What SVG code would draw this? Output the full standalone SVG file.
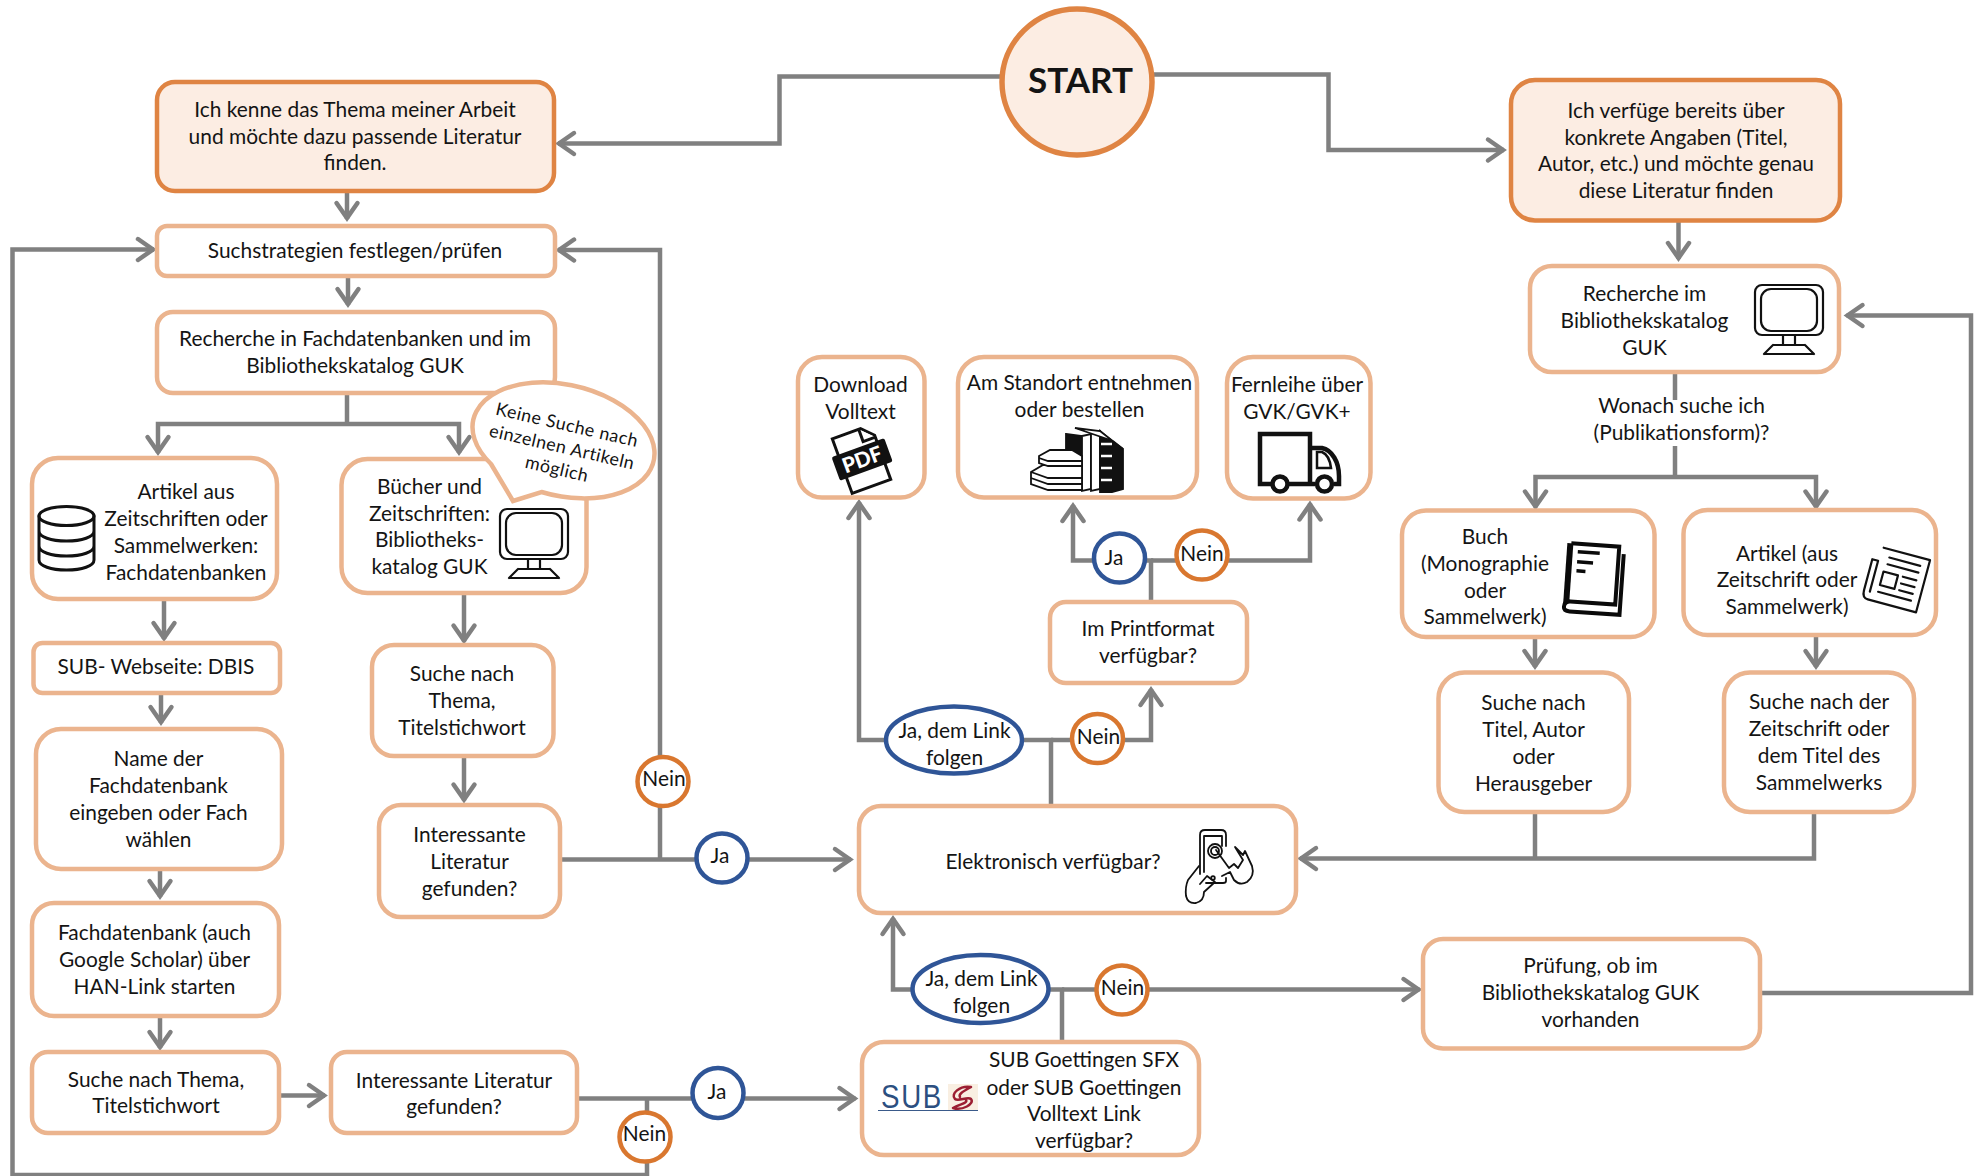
<svg xmlns="http://www.w3.org/2000/svg" width="1979" height="1176" viewBox="0 0 1979 1176">
<style>
text{font-family:Lato,"Open Sans","Liberation Sans",sans-serif;font-size:20.900px;fill:#141414;text-anchor:middle}
.b{fill:#fff;stroke:#EBB48E;stroke-width:4.5}
.s{fill:#FCEDE3;stroke:#DF8443;stroke-width:4.5}
.y{fill:#fff;stroke:#2F5597;stroke-width:4.5}
.n{fill:#fff;stroke:#D9772F;stroke-width:4.5}
.c{fill:none;stroke:#808080;stroke-width:4.5}
.a{marker-end:url(#h)}
.i{fill:none;stroke:#111;stroke-width:2.2;stroke-linejoin:round;stroke-linecap:round}
.t{font-size:17.800px;letter-spacing:.5px}
</style>
<defs>
<marker id="h" markerUnits="userSpaceOnUse" markerWidth="26" markerHeight="30" viewBox="-20 -15 26 30" refX="0" refY="0" orient="auto"><path d="M-16,-10.500 L-1,0 L-16,10.500" fill="none" stroke="#808080" stroke-width="4.500" stroke-linecap="round"/></marker>
<symbol id="mon" viewBox="0 0 70 71" overflow="visible">
<rect x="1" y="1" width="68" height="50" rx="7" class="i"/>
<rect x="7" y="5" width="56" height="42" rx="10" class="i"/>
<path d="M29,52V61M41,52V61M19,61H51M10,70L19,61M60,70L51,61M10,70H60" class="i"/>
</symbol>
</defs>
<g id="connectors" class="c">
<path class="a" d="M1001,76.500H779.500V143.500H558"/>
<path class="a" d="M1153,74.500H1328.500V150H1504"/>
<path class="a" d="M347,192V219"/>
<path class="a" d="M348,276V305"/>
<path d="M347,393V424"/>
<path class="a" d="M347,424H158V453"/>
<path class="a" d="M347,424H459V453"/>
<path class="a" d="M164,597V639"/>
<path class="a" d="M161,693V723"/>
<path class="a" d="M160,869V897"/>
<path class="a" d="M160,1016V1048"/>
<path class="a" d="M280,1095.500H325"/>
<path class="a" d="M464,593V641.500"/>
<path class="a" d="M464,758V800.500"/>
<path d="M560,859.500H660"/>
<path class="a" d="M660,859.500V250H558"/>
<path class="a" d="M660,859.500H851"/>
<path class="a" d="M647,1098.500V1175H12.500V249.500H154"/>
<path d="M577,1098.500H647"/>
<path class="a" d="M647,1098.500H855.500"/>
<path class="a" d="M1051,806V740H859V502"/>
<path class="a" d="M1051,740H1151V689"/>
<path class="a" d="M1151,602V560.500H1073V505"/>
<path class="a" d="M1151,560.500H1310V503.500"/>
<path class="a" d="M1062,1041V989.500H893V918"/>
<path class="a" d="M1062,989.500H1419.500"/>
<path class="a" d="M1761,993H1971V315.500H1846.500"/>
<path class="a" d="M1678.500,221V259"/>
<path d="M1675,372V400M1675,446V477"/>
<path class="a" d="M1675,477H1535.500V507.500"/>
<path class="a" d="M1675,477H1816V507.500"/>
<path class="a" d="M1535,637V667"/>
<path class="a" d="M1816,635V667"/>
<path d="M1535,812V858"/>
<path class="a" d="M1814,812V858.500H1300"/>
</g>
<g id="start"><ellipse class="s" cx="1077" cy="82" rx="75" ry="73" style="stroke-width:5.500"/><text x="1080.500" y="93" style="font-size:35px;font-weight:700">START</text></g>
<g id="thema"><rect class="s" x="157" y="82" width="397" height="109" rx="18"/><text><tspan x="355" y="116.500">Ich kenne das Thema meiner Arbeit</tspan><tspan x="355" y="143.500">und möchte dazu passende Literatur</tspan><tspan x="355" y="170">finden.</tspan></text></g>
<g id="strategien"><rect class="b" x="157" y="226" width="398" height="50" rx="10"/><text x="355" y="257.500">Suchstrategien festlegen/prüfen</text></g>
<g id="recherche"><rect class="b" x="157" y="312" width="398" height="81" rx="16"/><text><tspan x="355" y="345.500">Recherche in Fachdatenbanken und im</tspan><tspan x="355" y="372.500">Bibliothekskatalog GUK</tspan></text></g>
<g id="artikel-db"><rect class="b" x="32" y="458" width="245" height="141" rx="26"/>
<g class="i" style="stroke-width:3"><ellipse cx="66.500" cy="516" rx="27.500" ry="9.500"/><path d="M39,516V560C39,566 51,570 66.500,570C82,570 94,566 94,560V516M39,531C39,537 51,541 66.500,541C82,541 94,537 94,531M39,546C39,552 51,556 66.500,556C82,556 94,552 94,546"/></g>
<text><tspan x="186" y="498.500">Artikel aus</tspan><tspan x="186" y="526">Zeitschriften oder</tspan><tspan x="186" y="553">Sammelwerken:</tspan><tspan x="186" y="580">Fachdatenbanken</tspan></text></g>
<g id="buecher"><rect class="b" x="341.500" y="459" width="245" height="134" rx="26"/><use href="#mon" x="499" y="508" width="70" height="71"/>
<text><tspan x="429.500" y="493.500">Bücher und</tspan><tspan x="429.500" y="520.500">Zeitschriften:</tspan><tspan x="429.500" y="547">Bibliotheks-</tspan><tspan x="429.500" y="574">katalog GUK</tspan></text></g>
<g id="hinweis"><path class="b" d="M491,464L513,501L541.500,492A92.500 55.600 13 1 0 491,464Z"/>
<text class="t" transform="rotate(13 567 425)" x="567" y="431">Keine Suche nach</text><text class="t" transform="rotate(13 562 447)" x="562" y="453">einzelnen  Artikeln</text><text class="t" transform="rotate(13 557 469)" x="557" y="475">möglich</text></g>
<g id="dbis"><rect class="b" x="33.500" y="643" width="246.500" height="50" rx="9"/><text x="156" y="674">SUB- Webseite: DBIS</text></g>
<g id="name-db"><rect class="b" x="36" y="729" width="246" height="140" rx="25"/><text><tspan x="158.500" y="765.500">Name der</tspan><tspan x="158.500" y="792.500">Fachdatenbank</tspan><tspan x="158.500" y="820">eingeben oder Fach</tspan><tspan x="158.500" y="847">wählen</tspan></text></g>
<g id="han"><rect class="b" x="32" y="903" width="247" height="113" rx="22"/><text><tspan x="154.500" y="940">Fachdatenbank (auch</tspan><tspan x="154.500" y="967">Google Scholar) über</tspan><tspan x="154.500" y="994">HAN-Link starten</tspan></text></g>
<g id="suche-thema-1"><rect class="b" x="32" y="1052" width="247" height="81" rx="16"/><text><tspan x="156" y="1086.500">Suche nach Thema,</tspan><tspan x="156" y="1113">Titelstichwort</tspan></text></g>
<g id="interessant-1"><rect class="b" x="331" y="1052" width="246" height="81" rx="16"/><text><tspan x="454" y="1087.500">Interessante Literatur</tspan><tspan x="454" y="1114">gefunden?</tspan></text></g>
<g id="suche-thema-2"><rect class="b" x="372" y="645" width="181.500" height="111" rx="22"/><text><tspan x="462" y="681">Suche nach</tspan><tspan x="462" y="708">Thema,</tspan><tspan x="462" y="735">Titelstichwort</tspan></text></g>
<g id="interessant-2"><rect class="b" x="379" y="805" width="181" height="112" rx="22"/><text><tspan x="469.500" y="841.500">Interessante</tspan><tspan x="469.500" y="869">Literatur</tspan><tspan x="469.500" y="895.500">gefunden?</tspan></text></g>
<g id="nein-1"><ellipse class="n" cx="663" cy="781.500" rx="25.500" ry="24.500"/><text x="664" y="786">Nein</text></g>
<g id="ja-1"><ellipse class="y" cx="722" cy="858" rx="25.500" ry="24.500"/><text x="720" y="863">Ja</text></g>
<g id="nein-2"><ellipse class="n" cx="645" cy="1137" rx="25.500" ry="24.500"/><text x="644.500" y="1141">Nein</text></g>
<g id="ja-2"><ellipse class="y" cx="718" cy="1093" rx="25.500" ry="25"/><text x="717" y="1098.500">Ja</text></g>
<g id="download"><rect class="b" x="798" y="357" width="126.500" height="140.500" rx="24"/>
<text><tspan x="860.500" y="391.500">Download</tspan><tspan x="860.500" y="419">Volltext</tspan></text>
<g transform="rotate(-20 862 459)"><path d="M841,430H871L882,441V488H841Z" fill="#fff" stroke="#111" stroke-width="3"/><path d="M869,430V443H882" fill="#fff" stroke="#111" stroke-width="3"/><rect x="834" y="447" width="56" height="25" rx="2" fill="#111"/><text x="862" y="467" style="font-size:21px;font-weight:900;fill:#fff">PDF</text></g></g>
<g id="standort"><rect class="b" x="958" y="357" width="239" height="140.500" rx="26"/>
<text><tspan x="1079.500" y="390">Am Standort entnehmen</tspan><tspan x="1079.500" y="417">oder bestellen</tspan></text>
<g stroke="#111" stroke-width="1.800"><path d="M1066,434L1082,436V488L1066,486Z" fill="#111"/><path d="M1082,436L1091,434V489L1082,491Z" fill="#fff"/><path d="M1091,434L1100,431V489L1091,491Z" fill="#fff"/><path d="M1100,431L1112,441L1123,449V489L1112,492H1100Z" fill="#111"/><path d="M1075,428L1113,441L1123,449L1100,431Z" fill="#fff"/><path d="M1083,446h7M1083,456h7M1083,466h7M1083,476h7M1101,444h11M1101,456h11M1101,468h11M1101,480h11" stroke="#fff" stroke-width="2.500"/>
<path d="M1031,472L1043,465H1082V490H1048L1031,484Z" fill="#fff"/><path d="M1031,478L1048,484H1082M1031,472L1048,478H1082" fill="none"/><path d="M1039,456L1050,450H1072L1082,456V466H1048L1039,463Z" fill="#fff"/><path d="M1039,458L1048,461H1082" fill="none"/></g></g>
<g id="fernleihe"><rect class="b" x="1227" y="357" width="143.500" height="141.500" rx="26"/>
<text><tspan x="1297" y="392">Fernleihe über</tspan><tspan x="1297" y="419">GVK/GVK+</tspan></text>
<g fill="none" stroke="#111" stroke-width="4.500"><path d="M1272,484H1260V434H1310V484H1289M1310,448H1322C1332,450 1339,462 1339,476V484H1334M1315,484H1310"/><path d="M1317,452H1322C1327,454 1330,460 1331,468H1317Z" stroke-width="2.500"/><circle cx="1280" cy="484" r="7.500"/><circle cx="1324.500" cy="484" r="7.500"/></g></g>
<g id="ja-3"><ellipse class="y" cx="1119.500" cy="558" rx="25.500" ry="24.500"/><text x="1114" y="564.500">Ja</text></g>
<g id="nein-3"><ellipse class="n" cx="1202" cy="555" rx="25.500" ry="24.500"/><text x="1202" y="560.500">Nein</text></g>
<g id="print"><rect class="b" x="1050" y="602" width="197" height="81" rx="16"/><text><tspan x="1148" y="635.500">Im Printformat</tspan><tspan x="1148" y="662.500">verfügbar?</tspan></text></g>
<g id="ja-link-1"><ellipse class="y" cx="954" cy="740" rx="68" ry="33.500"/><text><tspan x="954.500" y="738">Ja, dem Link</tspan><tspan x="954.500" y="764.500">folgen</tspan></text></g>
<g id="nein-4"><ellipse class="n" cx="1097.500" cy="738.500" rx="25.500" ry="24.500"/><text x="1098.500" y="744">Nein</text></g>
<g id="elektronisch"><rect class="b" x="859" y="806" width="437" height="107" rx="22"/><text x="1053" y="869">Elektronisch verfügbar?</text>
<g class="i" style="stroke-width:1.800"><path d="M1200,874V835Q1200,830 1205,830H1221Q1226,830 1226,835V846M1204,872V836H1222V846M1226,878V881Q1226,883 1223,883H1206"/><circle cx="1213" cy="878" r="1.800"/><circle cx="1215" cy="851" r="7"/><circle cx="1215" cy="851" r="4"/><path d="M1216,850L1229,868L1234,864L1238,868L1243,860L1235,847L1243,855L1245,851L1252,866Q1255,876 1247,882Q1240,886 1234,880L1230,872L1222,876"/><path d="M1199,866L1188,880Q1185,887 1186,896Q1188,904 1196,903Q1204,901 1204,892L1215,882L1207,876L1200,884"/></g></g>
<g id="ja-link-2"><ellipse class="y" cx="980.500" cy="989" rx="68" ry="34"/><text><tspan x="981.500" y="985.500">Ja, dem Link</tspan><tspan x="981.500" y="1012.500">folgen</tspan></text></g>
<g id="nein-5"><ellipse class="n" cx="1122" cy="990" rx="25.500" ry="24.500"/><text x="1122.500" y="995">Nein</text></g>
<g id="sfx"><rect class="b" x="862" y="1042" width="337" height="113" rx="22"/>
<rect x="948" y="1084" width="30" height="26" fill="#F9EFE2"/><text x="912" y="1108" textLength="62" lengthAdjust="spacingAndGlyphs" style="font-family:'Liberation Sans',sans-serif;font-size:33px;font-weight:400;fill:#2C4F80;letter-spacing:2px">SUB</text><path d="M878,1110.500H978" stroke="#3A5A8A" stroke-width="1" fill="none"/><path d="M971,1087C960,1085 950,1094 955,1099C958,1102 968,1096 971,1099C975,1104 962,1111 953,1108M953,1108C960,1104 968,1103 966,1100M971,1087C964,1091 958,1094 960,1097" fill="none" stroke="#9C1F33" stroke-width="2.500" stroke-linecap="round"/>
<text><tspan x="1084" y="1067">SUB Goettingen SFX</tspan><tspan x="1084" y="1095">oder SUB Goettingen</tspan><tspan x="1084" y="1121">Volltext Link</tspan><tspan x="1084" y="1148">verfügbar?</tspan></text></g>
<g id="pruefung"><rect class="b" x="1423" y="939" width="337" height="109.500" rx="20"/><text><tspan x="1590.500" y="973">Prüfung, ob im</tspan><tspan x="1590.500" y="1000">Bibliothekskatalog GUK</tspan><tspan x="1590.500" y="1027">vorhanden</tspan></text></g>
<g id="konkret"><rect class="s" x="1511" y="80" width="329" height="140.500" rx="24"/><text><tspan x="1676" y="117.500">Ich verfüge bereits über</tspan><tspan x="1676" y="144.500">konkrete Angaben (Titel,</tspan><tspan x="1676" y="171">Autor, etc.) und möchte genau</tspan><tspan x="1676" y="198">diese Literatur finden</tspan></text></g>
<g id="recherche-guk"><rect class="b" x="1530" y="266" width="309" height="106" rx="22"/><use href="#mon" x="1754" y="284" width="70" height="71"/><text><tspan x="1644.500" y="301">Recherche im</tspan><tspan x="1644.500" y="328">Bibliothekskatalog</tspan><tspan x="1644.500" y="355">GUK</tspan></text></g>
<g id="wonach"><text><tspan x="1681.500" y="413">Wonach suche ich</tspan><tspan x="1681.500" y="440">(Publikationsform)?</tspan></text></g>
<g id="buch"><rect class="b" x="1402" y="510.500" width="252.500" height="126.500" rx="24"/>
<text><tspan x="1485" y="544">Buch</tspan><tspan x="1485" y="571">(Monographie</tspan><tspan x="1485" y="597.500">oder</tspan><tspan x="1485" y="624">Sammelwerk)</tspan></text>
<g transform="rotate(4 1594 578)" fill="none" stroke="#0a0a0a"><path d="M1569,545H1617V603H1572Q1566,603 1566,609Q1566,613 1572,613H1622V552" stroke-width="4"/><path d="M1568,545V605" stroke-width="6"/><path d="M1576,553H1598M1576,563H1592M1576,572H1585" stroke-width="3.500"/></g></g>
<g id="artikel-form"><rect class="b" x="1683.500" y="510" width="252.500" height="125" rx="24"/>
<text><tspan x="1787" y="560.500">Artikel (aus</tspan><tspan x="1787" y="587">Zeitschrift oder</tspan><tspan x="1787" y="614">Sammelwerk)</tspan></text>
<g transform="rotate(15 1896 579)" class="i"><path d="M1876,552H1924V606H1874Q1868,606 1868,598V566H1874M1874,566V598"/><path d="M1884,560H1916M1884,567H1916M1882,575H1897V589H1882ZM1902,575H1916M1902,582H1916M1902,589H1916M1882,596H1916"/></g></g>
<g id="suche-titel"><rect class="b" x="1438.500" y="672.500" width="190.500" height="139.500" rx="26"/><text><tspan x="1533.500" y="710">Suche nach</tspan><tspan x="1533.500" y="736.500">Titel, Autor</tspan><tspan x="1533.500" y="764">oder</tspan><tspan x="1533.500" y="790.500">Herausgeber</tspan></text></g>
<g id="suche-zeitschrift"><rect class="b" x="1724" y="672.500" width="190" height="139.500" rx="26"/><text><tspan x="1819" y="709">Suche nach der</tspan><tspan x="1819" y="735.500">Zeitschrift oder</tspan><tspan x="1819" y="762.500">dem Titel des</tspan><tspan x="1819" y="789.500">Sammelwerks</tspan></text></g>
</svg>
